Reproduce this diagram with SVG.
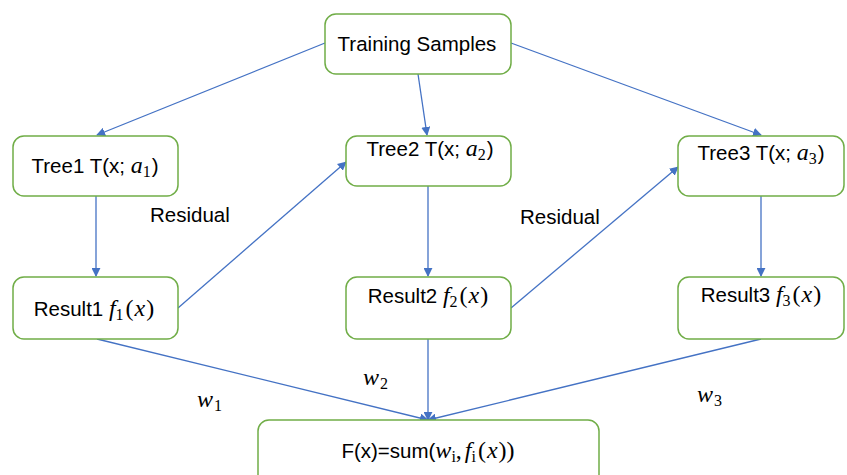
<svg xmlns="http://www.w3.org/2000/svg" width="847" height="475" viewBox="0 0 847 475">
<defs>
<style>
.box{fill:#fff;stroke:#70AD47;stroke-width:1.5}
.con{stroke:#4472C4;stroke-width:1.3;fill:none}
.t{font-family:"Liberation Sans",Arial,sans-serif;font-size:20.5px;fill:#000}
.m{font-family:"Liberation Serif","Times New Roman",serif;font-style:italic;font-size:24px}
.mr{font-family:"Liberation Serif","Times New Roman",serif;font-size:24px}
.s{font-family:"Liberation Serif","Times New Roman",serif;font-size:16px}
</style>
<marker id="ah" viewBox="0 0 10 10" refX="9" refY="5" markerWidth="9" markerHeight="9" markerUnits="userSpaceOnUse" orient="auto">
<path d="M0,0 L10,5 L0,10 z" fill="#4472C4"/>
</marker>
</defs>
<rect width="847" height="475" fill="#fff"/>
<g id="connectors">
<line class="con" x1="325" y1="43" x2="97" y2="135" marker-end="url(#ah)"/>
<line class="con" x1="418" y1="74" x2="427" y2="135" marker-end="url(#ah)"/>
<line class="con" x1="511" y1="43" x2="761" y2="135" marker-end="url(#ah)"/>
<line class="con" x1="96" y1="196" x2="96" y2="276" marker-end="url(#ah)"/>
<line class="con" x1="178" y1="308" x2="346" y2="162" marker-end="url(#ah)"/>
<line class="con" x1="428" y1="186" x2="428" y2="276" marker-end="url(#ah)"/>
<line class="con" x1="511" y1="308" x2="678" y2="167" marker-end="url(#ah)"/>
<line class="con" x1="761" y1="196" x2="761" y2="276" marker-end="url(#ah)"/>
<line class="con" x1="97" y1="339" x2="428" y2="420" marker-end="url(#ah)"/>
<line class="con" x1="428" y1="339" x2="428" y2="420" marker-end="url(#ah)"/>
<line class="con" x1="761" y1="339" x2="428" y2="420" marker-end="url(#ah)"/>
<text class="t" x="150" y="222">Residual</text>
<text class="t" x="520" y="224">Residual</text>
<text class="t" x="197" y="407"><tspan class="m">w</tspan><tspan class="s" dx="1" dy="4">1</tspan></text>
<text class="t" x="363" y="385"><tspan class="m">w</tspan><tspan class="s" dx="1" dy="4">2</tspan></text>
<text class="t" x="697" y="402"><tspan class="m">w</tspan><tspan class="s" dx="1" dy="4">3</tspan></text>
</g>
<g id="training">
<rect class="box" x="325" y="14" width="186" height="60" rx="11"/>
<text class="t" x="417" y="51" text-anchor="middle">Training Samples</text>
</g>
<g id="tree1">
<rect class="box" x="13" y="136" width="165" height="60" rx="11"/>
<text class="t" x="95" y="173" text-anchor="middle">Tree1 T(x; <tspan class="m">a</tspan><tspan class="s" dy="4">1</tspan><tspan dx="1" dy="-4">)</tspan></text>
</g>
<g id="tree2">
<rect class="box" x="346" y="136" width="165" height="50" rx="11"/>
<text class="t" x="430" y="156" text-anchor="middle">Tree2 T(x; <tspan class="m">a</tspan><tspan class="s" dy="4">2</tspan><tspan dx="1" dy="-4">)</tspan></text>
</g>
<g id="tree3">
<rect class="box" x="678" y="136" width="166" height="60" rx="11"/>
<text class="t" x="761" y="160" text-anchor="middle">Tree3 T(x; <tspan class="m">a</tspan><tspan class="s" dy="4">3</tspan><tspan dx="1" dy="-4">)</tspan></text>
</g>
<g id="result1">
<rect class="box" x="13" y="277" width="165" height="62" rx="11"/>
<text class="t" x="94" y="316" text-anchor="middle">Result1 <tspan class="m">f</tspan><tspan class="s" dy="4">1</tspan><tspan class="mr" dx="2" dy="-4">(</tspan><tspan class="m" dx="1">x</tspan><tspan class="mr" dx="1">)</tspan></text>
</g>
<g id="result2">
<rect class="box" x="346" y="277" width="165" height="62" rx="11"/>
<text class="t" x="428" y="303" text-anchor="middle">Result2 <tspan class="m">f</tspan><tspan class="s" dy="4">2</tspan><tspan class="mr" dx="2" dy="-4">(</tspan><tspan class="m" dx="1">x</tspan><tspan class="mr" dx="1">)</tspan></text>
</g>
<g id="result3">
<rect class="box" x="678" y="277" width="166" height="62" rx="11"/>
<text class="t" x="761" y="302" text-anchor="middle">Result3 <tspan class="m">f</tspan><tspan class="s" dy="4">3</tspan><tspan class="mr" dx="2" dy="-4">(</tspan><tspan class="m" dx="1">x</tspan><tspan class="mr" dx="1">)</tspan></text>
</g>
<g id="sum">
<rect class="box" x="258" y="420" width="341" height="70" rx="11"/>
<text class="t" x="428" y="458" text-anchor="middle">F(x)=sum(<tspan class="m">w</tspan><tspan class="s" dy="4">i</tspan><tspan class="mr" dy="-4">,</tspan><tspan class="m" dx="3">f</tspan><tspan class="s" dy="4">i</tspan><tspan class="mr" dx="2" dy="-4">(</tspan><tspan class="m" dx="1">x</tspan><tspan class="mr" dx="1">))</tspan></text>
</g>
</svg>
